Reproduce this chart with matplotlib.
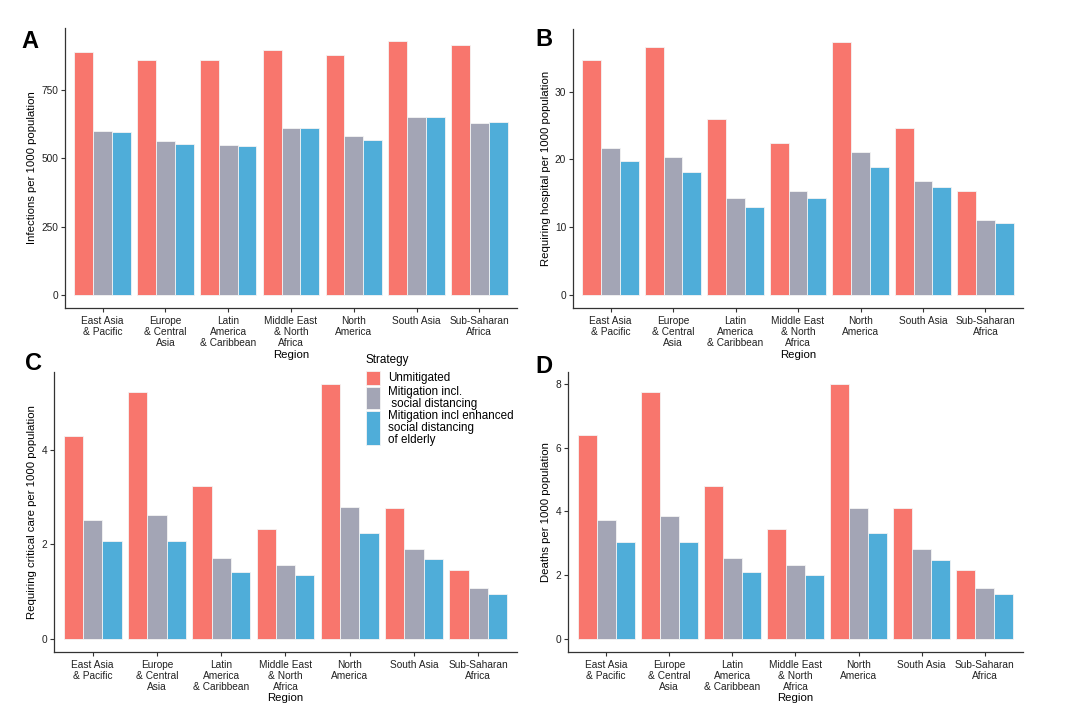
import numpy as np
import matplotlib
matplotlib.use('Agg')
import matplotlib.pyplot as plt
from matplotlib.patches import Rectangle
from matplotlib import rcParams
rcParams.update({'font.family': ['Liberation Sans', 'DejaVu Sans'], 'font.size': 8})

# colours (ggplot-ish)
red = '#F8766D'
grey = '#A3A5B5'
blue = '#4FADD9'
axcol = '#333333'
colors = [red, grey, blue]

regions = ['East Asia\n& Pacific', 'Europe\n& Central\nAsia', 'Latin\nAmerica\n& Caribbean',
           'Middle East\n& North\nAfrica', 'North\nAmerica', 'South Asia', 'Sub-Saharan\nAfrica']
strategies = ['Unmitigated', 'Mitigation incl.\n social distancing',
              'Mitigation incl enhanced\nsocial distancing\nof elderly']

# A - infections per 1000
inf_unmit = [888, 860, 860, 894, 877, 929, 913]
inf_sd = [601, 562, 549, 610, 580, 649, 629]
inf_sde = [596, 551, 544, 611, 567, 649, 632]

# B - hospital per 1000
hosp_unmit = [34.6, 36.5, 25.9, 22.4, 37.3, 24.7, 15.4]
hosp_sd = [21.7, 20.4, 14.3, 15.3, 21.1, 16.9, 11.1]
hosp_sde = [19.8, 18.2, 13.0, 14.4, 18.9, 16.0, 10.7]

# C - critical care per 1000
cc_unmit = [4.30, 5.21, 3.23, 2.33, 5.38, 2.76, 1.45]
cc_sd = [2.52, 2.61, 1.72, 1.56, 2.78, 1.90, 1.07]
cc_sde = [2.06, 2.06, 1.41, 1.35, 2.23, 1.68, 0.96]

# D - deaths per 1000
death_unmit = [6.39, 7.74, 4.78, 3.46, 7.98, 4.09, 2.16]
death_sd = [3.73, 3.87, 2.55, 2.32, 4.12, 2.82, 1.59]
death_sde = [3.04, 3.04, 2.09, 2.01, 3.31, 2.49, 1.42]


def panel(ax, series, ylabel, yticks, letter, letter_xy):
    x = np.arange(len(regions))
    w = 0.3
    for j, vals in enumerate(series):
        ax.bar(x + (j - 1) * w, vals, w, color=colors[j], edgecolor='#f4f4f4', linewidth=0.6)
    ymax = max(max(s) for s in series)
    ax.set_ylim(-0.05 * ymax, 1.05 * ymax)
    ax.set_xlim(-0.6, len(regions) - 0.4)
    ax.set_xticks(x)
    ax.set_xticklabels(regions, fontsize=7.3, linespacing=1.12)
    ax.set_yticks(yticks)
    ax.tick_params(axis='y', labelsize=7.3, colors=axcol, length=3, width=0.8, pad=2)
    ax.tick_params(axis='x', colors=axcol, length=3, width=0.8, pad=3)
    for lab in ax.get_xticklabels() + ax.get_yticklabels():
        lab.set_color('#222222')
    ax.set_ylabel(ylabel, fontsize=8.2, labelpad=3)
    ax.set_xlabel('Region', fontsize=8.2, labelpad=1)
    for s in ['top', 'right']:
        ax.spines[s].set_visible(False)
    for s in ['left', 'bottom']:
        ax.spines[s].set_color(axcol)
        ax.spines[s].set_linewidth(0.9)
    fig.text(letter_xy[0] / 1080, 1 - letter_xy[1] / 724, letter, fontsize=17,
             fontweight='bold', ha='center', va='center')


fig = plt.figure(figsize=(10.8, 7.24), dpi=100)
axA = fig.add_axes([0.0602, 0.5746, 0.4185, 0.3867])
axB = fig.add_axes([0.5306, 0.5746, 0.4166, 0.3849])
axC = fig.add_axes([0.0500, 0.0999, 0.4287, 0.3867])
axD = fig.add_axes([0.5262, 0.0999, 0.4207, 0.3867])

panel(axA, [inf_unmit, inf_sd, inf_sde], 'Infections per 1000 population', [0, 250, 500, 750], 'A', (30, 42))
panel(axB, [hosp_unmit, hosp_sd, hosp_sde], 'Requiring hospital per 1000 population', [0, 10, 20, 30], 'B', (544, 40))
panel(axC, [cc_unmit, cc_sd, cc_sde], 'Requiring critical care per 1000 population', [0, 2, 4], 'C', (33, 363))
panel(axD, [death_unmit, death_sd, death_sde], 'Deaths per 1000 population', [0, 2, 4, 6, 8], 'D', (544, 367))

# legend drawn by hand so the keys stretch with the text, as in ggplot
lx, ly = 366, 371
line_h = 12
fig.text(lx / 1080, 1 - 360 / 724, 'Strategy', fontsize=8.4, ha='left', va='center')
for lab, col in zip(strategies, colors):
    n = lab.count('\n') + 1
    h = max(14, n * line_h - 2)
    fig.patches.append(Rectangle((lx / 1080, 1 - (ly + h) / 724), 14 / 1080, h / 724,
                                 transform=fig.transFigure, facecolor=col,
                                 edgecolor='#f4f4f4', linewidth=0.6))
    fig.text(388 / 1080, 1 - (ly + h / 2) / 724, lab, fontsize=8.4, ha='left', va='center',
             linespacing=1.0)
    ly += h + 2

fig.savefig('out.png', dpi=100)
